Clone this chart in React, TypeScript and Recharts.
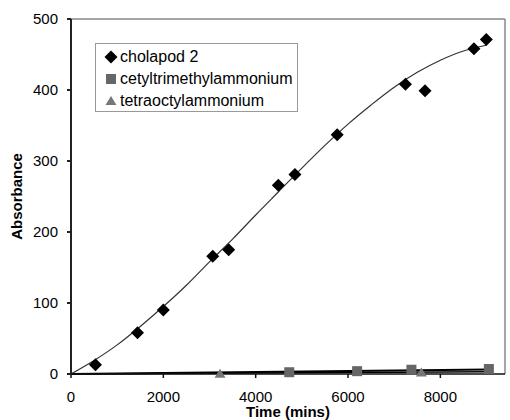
import { ComposedChart, Line, Scatter, XAxis, YAxis, ReferenceLine, Label } from "recharts";

const FONT = "'Liberation Sans', Arial, Helvetica, sans-serif";

const cholapodTime = [530, 1440, 2000, 3070, 3415, 4490, 4850, 5765, 7243, 7668, 8727, 8995];
const cholapodAbs = [13, 58, 90, 166, 175, 266, 281, 337, 408, 399, 458, 471];

// polynomial trendline
const trendTime = [0, 500, 1000, 1500, 2000, 2500, 3000, 3500, 4000, 4500, 5000, 5500, 6000, 6500, 7000, 7500, 8000, 8500, 9000];
const trendAbs = [0, 19, 41, 67, 95, 125, 158, 190, 224, 257, 290, 322, 352, 379, 404, 425, 442, 455, 463];

const cetylTime = [4727, 6197, 7373, 9051];
const cetylAbs = [2.5, 4, 6, 7];
const cetylTrendTime = [0, 9051];
const cetylTrendAbs = [0, 6.5];

const tetraTime = [3228, 7589];
const tetraAbs = [0.5, 2];
const tetraTrendTime = [0, 9051];
const tetraTrendAbs = [0, 3];

const xTicks = [0, 2000, 4000, 6000, 8000];
const yTicks = [0, 100, 200, 300, 400, 500];

const legendItems = [
  { name: "cholapod 2", symbol: "diamond", color: "#000" },
  { name: "cetyltrimethylammonium", symbol: "square", color: "#666" },
  { name: "tetraoctylammonium", symbol: "triangle", color: "#777" },
];

const zip = (xs: number[], ys: number[]) => xs.map((x, i) => ({ x, y: ys[i] }));

const cholapod = zip(cholapodTime, cholapodAbs);
const trend = zip(trendTime, trendAbs);
const cetyl = zip(cetylTime, cetylAbs);
const cetylTrend = zip(cetylTrendTime, cetylTrendAbs);
const tetra = zip(tetraTime, tetraAbs);
const tetraTrend = zip(tetraTrendTime, tetraTrendAbs);

function Marker({ cx, cy, symbol, color }: { cx: number; cy: number; symbol: string; color: string }) {
  if (symbol === "diamond") {
    const r = 6.5;
    return <polygon points={`${cx},${cy - r} ${cx + r},${cy} ${cx},${cy + r} ${cx - r},${cy}`} fill={color} />;
  }
  if (symbol === "square") {
    return <rect x={cx - 5} y={cy - 5} width={10} height={10} fill={color} />;
  }
  return <polygon points={`${cx},${cy - 5} ${cx + 5.5},${cy + 4} ${cx - 5.5},${cy + 4}`} fill={color} />;
}

export default function App() {
  const tick = { fill: "#000", fontSize: 15, fontFamily: FONT };
  return (
    <div style={{ position: "absolute", left: 0, top: 0, width: 510, height: 420, background: "#fff" }}>
      <ComposedChart width={510} height={420} margin={{ top: 19, right: 5, left: 0, bottom: 0 }}>
        <XAxis
          dataKey="x"
          type="number"
          domain={[0, 9400]}
          ticks={xTicks}
          tick={tick}
          tickSize={4}
          tickMargin={13}
          height={46}
          stroke="#111"
          strokeWidth={1.5}
          allowDataOverflow
        >
          <Label value="Time (mins)" position="insideBottom" offset={3} style={{ fontFamily: FONT, fontSize: 15, fontWeight: "bold", fill: "#000" }} />
        </XAxis>
        <YAxis
          dataKey="y"
          type="number"
          domain={[0, 500]}
          ticks={yTicks}
          tick={tick}
          tickSize={4}
          tickMargin={9}
          width={71}
          stroke="#222"
          strokeWidth={2}
        >
          <Label value="Absorbance" angle={-90} position="insideLeft" offset={17} style={{ fontFamily: FONT, fontSize: 15, fontWeight: "bold", fill: "#000", textAnchor: "middle" }} />
        </YAxis>
        <ReferenceLine y={500} stroke="#888" strokeWidth={1.5} />
        <ReferenceLine x={9400} stroke="#888" strokeWidth={1.5} />
        <Line data={cetylTrend} dataKey="y" stroke="#000" strokeWidth={2} dot={false} isAnimationActive={false} />
        <Line data={tetraTrend} dataKey="y" stroke="#000" strokeWidth={1.5} dot={false} isAnimationActive={false} />
        <Line data={trend} dataKey="y" type="monotone" stroke="#333" strokeWidth={1.2} dot={false} isAnimationActive={false} />
        <Scatter data={tetra} dataKey="y" isAnimationActive={false} shape={(p: any) => <Marker cx={p.cx} cy={p.cy} symbol="triangle" color="#777" />} />
        <Scatter data={cetyl} dataKey="y" isAnimationActive={false} shape={(p: any) => <Marker cx={p.cx} cy={p.cy} symbol="square" color="#666" />} />
        <Scatter data={cholapod} dataKey="y" isAnimationActive={false} shape={(p: any) => <Marker cx={p.cx} cy={p.cy} symbol="diamond" color="#000" />} />
      </ComposedChart>
      <div
        style={{
          position: "absolute",
          left: 95,
          top: 43,
          width: 203,
          height: 69,
          border: "1px solid #999",
          background: "#fff",
          fontFamily: FONT,
          fontSize: 16,
          color: "#000",
          boxSizing: "border-box",
          paddingTop: 2,
        }}
      >
        {legendItems.map((it) => (
          <div key={it.name} style={{ display: "flex", alignItems: "center", height: 22, paddingLeft: 8 }}>
            <svg width={14} height={14} style={{ marginRight: 2 }}>
              <Marker cx={7} cy={7} symbol={it.symbol} color={it.color} />
            </svg>
            <span>{it.name}</span>
          </div>
        ))}
      </div>
    </div>
  );
}
